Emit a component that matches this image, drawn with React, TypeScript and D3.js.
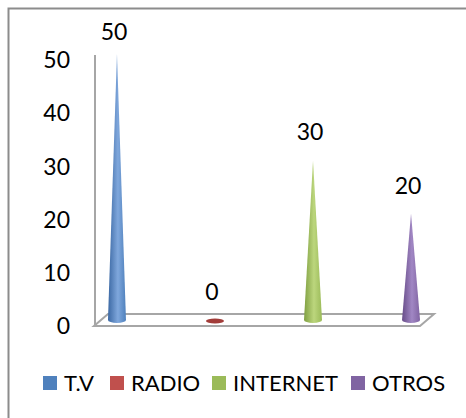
import React from 'react';
import * as d3 from 'd3';

const categories = ['T.V', 'RADIO', 'INTERNET', 'OTROS'];
const values = [50, 0, 30, 20];
const yTicks = [0, 10, 20, 30, 40, 50];
const colors = [
  { base: '#4f81bd', dark: '#3b68a3', light: '#7fa7dc' },
  { base: '#c0504d', dark: '#a23c39', light: '#d7706d' },
  { base: '#9bbb59', dark: '#7f9f41', light: '#bcd67d' },
  { base: '#8064a2', dark: '#674c88', light: '#a187c4' },
];

const width = 466;
const height = 418;
const font = 'Lato, "Open Sans", sans-serif';

// 3d floor offsets (front plane -> back plane)
const depthX = 14;
const depthY = 12;

const App = () => {
  const frontLeft = 94;
  const frontRight = 420;
  const y = d3.scaleLinear().domain([0, 50]).range([326, 60]);
  const floorY = y(0);

  // categories sit half way into the floor depth
  const x = d3.scalePoint<string>()
    .domain(categories)
    .range([frontLeft + depthX / 2, frontRight + depthX / 2])
    .padding(0.163);

  const coneW = 18;
  const coneRy = 3;
  const midY = (v: number) => y(v) - depthY / 2;

  const floor = d3.path();
  floor.moveTo(frontLeft, floorY);
  floor.lineTo(frontRight, floorY);
  floor.lineTo(frontRight + depthX, floorY - depthY);
  floor.lineTo(frontLeft + depthX, floorY - depthY);
  floor.closePath();

  const legendX = [43, 110, 212, 351];

  return (
    <div style={{ position: 'fixed', left: 0, top: 0 }}>
      <svg xmlns="http://www.w3.org/2000/svg" width={width} height={height} style={{ display: 'block', background: '#fff' }}>
        <defs>
          {colors.map((c, i) => (
            <linearGradient key={i} id={`cone${i}`} x1="0" x2="1" y1="0" y2="0">
              <stop offset="0%" stopColor={c.dark} />
              <stop offset="55%" stopColor={c.light} />
              <stop offset="100%" stopColor={c.base} />
            </linearGradient>
          ))}
        </defs>
        <rect x={8.5} y={8.5} width={width} height={height} fill="none" stroke="#8c8c8c" strokeWidth={2} />

        <path d={floor.toString()} fill="#fff" stroke="#a6a6a6" strokeWidth={2} />
        <line x1={95} x2={95} y1={y(50) - 5} y2={floorY} stroke="#a6a6a6" strokeWidth={2} />

        <g fontFamily={font} fontSize={23} fill="#000">
          {yTicks.map(t => (
            <text key={t} x={70} y={y(t)} dy="0.36em" textAnchor="end">{t}</text>
          ))}
        </g>

        {categories.map((c, i) => {
          const cx = x(c) as number;
          const base = midY(0);
          const tip = midY(values[i]);
          if (values[i] === 0) {
            return <ellipse key={c} cx={cx} cy={base + 1} rx={coneW / 2} ry={2.5} fill={colors[i].dark} />;
          }
          const p = d3.path();
          p.moveTo(cx - coneW / 2, base);
          p.lineTo(cx, tip);
          p.lineTo(cx + coneW / 2, base);
          const d = p.toString() + ` A ${coneW / 2} ${coneRy} 0 0 1 ${cx - coneW / 2} ${base} Z`;
          return <path key={c} d={d} fill={`url(#cone${i})`} />;
        })}

        <g fontFamily={font} fontSize={23} fill="#000" textAnchor="middle">
          {categories.map((c, i) => (
            <text key={c} x={(x(c) as number) - 3} y={Math.max(midY(values[i]) - 20, 40)}>{values[i]}</text>
          ))}
        </g>

        <g fontFamily={font} fontSize={22} fill="#000">
          {categories.map((c, i) => (
            <g key={c} transform={`translate(${legendX[i]}, 376)`}>
              <rect x={0} y={0} width={14} height={14} fill={colors[i].base} />
              <text x={21} y={15}>{c}</text>
            </g>
          ))}
        </g>
      </svg>
    </div>
  );
};

export default App;
